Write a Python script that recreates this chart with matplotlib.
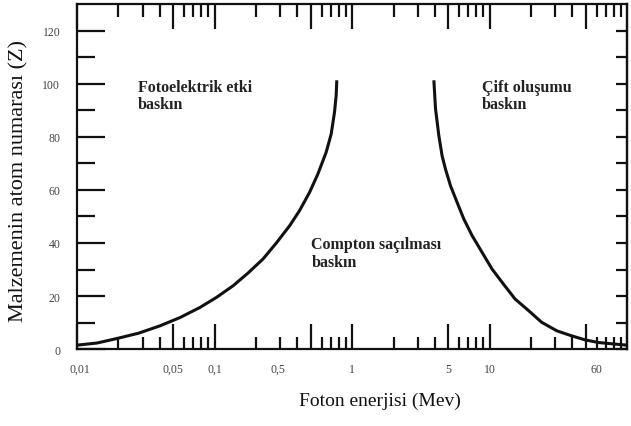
import numpy as np
import matplotlib.pyplot as plt
from matplotlib.ticker import FixedLocator, NullFormatter

# curve: photo effect / Compton border (left)
photo_energy = [0.01, 0.01396, 0.0195, 0.028, 0.0402, 0.0561, 0.0783, 0.1033,
                0.1366, 0.1754, 0.2254, 0.2813, 0.3515, 0.415, 0.491, 0.564,
                0.648, 0.705, 0.745, 0.766, 0.774]
photo_z = [1.5, 2.3, 4.0, 6.0, 8.8, 11.9, 15.7, 19.5, 23.9, 28.7, 34, 40,
           46.5, 52.2, 59.1, 66, 74.2, 81.1, 89.3, 95.6, 101.3]

# Compton / pair production border (right)
pair_energy = [3.93, 4.04, 4.27, 4.51, 4.77, 5.19, 5.80, 6.48, 7.45, 8.80,
               10.4, 12.6, 15.3, 19.2, 23.9, 30.8, 39.5, 49.3, 61.7, 81.4, 100]
pair_z = [101.3, 90.6, 80.5, 72.9, 67.9, 61.6, 55.3, 49.1, 42.8, 36.5,
          30.2, 24.5, 18.9, 14.5, 10.1, 6.9, 5.0, 3.5, 2.5, 1.9, 1.5]

# x tick labels, where they sit in the picture
xlabel_pos = [0.0105, 0.05, 0.1, 0.29, 1, 5, 10, 60]
xlabel_txt = ['0,01', '0,05', '0,1', '0,5', '1', '5', '10', '60']

y_major = [0, 20, 40, 60, 80, 100, 120]
y_minor = [10, 30, 50, 70, 90, 110]

region_labels = ['Fotoelektrik etki\nbaskın', 'Compton saçılması\nbaskın', 'Çift oluşumu\nbaskın']
region_pos = [(0.0277, 95.7), (0.505, 36.2), (8.75, 95.7)]

serif = 'Liberation Serif'
ink = '#111111'
lw = 1.6

#######################################################
fig = plt.figure(figsize=(6.31, 4.27), dpi=100)
ax = fig.add_axes([0.122, 0.180, 0.872, 0.808])

ax.plot(photo_energy, photo_z, color=ink, lw=2.2, solid_capstyle='butt')
ax.plot(pair_energy, pair_z, color=ink, lw=2.2, solid_capstyle='butt')

ax.set_xscale('log')
ax.set_xlim(0.01, 100)
ax.set_ylim(0, 130)

for s in ax.spines.values():
    s.set_linewidth(lw)
    s.set_color(ink)

# x tick marks: long at 1x and 5x of each decade, short at the rest
decades = [0.01, 0.1, 1, 10]
long_ticks = [d * m for d in decades for m in (1, 5)]
short_ticks = [d * m for d in decades for m in (2, 3, 4, 6, 7, 8, 9)]
ax.xaxis.set_major_locator(FixedLocator(long_ticks))
ax.xaxis.set_minor_locator(FixedLocator(short_ticks))
ax.xaxis.set_major_formatter(NullFormatter())
ax.xaxis.set_minor_formatter(NullFormatter())
ax.tick_params(axis='x', which='major', direction='in', length=18, width=lw,
               top=True, bottom=True, color=ink)
ax.tick_params(axis='x', which='minor', direction='in', length=9, width=lw,
               top=True, bottom=True, color=ink)

# y ticks on the left
ax.yaxis.set_major_locator(FixedLocator(y_major))
ax.yaxis.set_minor_locator(FixedLocator(y_minor))
ax.tick_params(axis='y', which='major', direction='in', length=20, width=lw,
               left=True, right=False, color=ink, pad=12, labelsize=8.5,
               labelcolor='#444444')
ax.tick_params(axis='y', which='minor', direction='in', length=13, width=lw,
               left=True, right=False, color=ink)
for t in ax.get_yticklabels():
    t.set_fontfamily(serif)

# short ticks on the right
ax_r = ax.secondary_yaxis('right')
ax_r.set_yticks(y_major + y_minor)
ax_r.tick_params(direction='in', length=8, width=lw, color=ink, labelright=False)
ax_r.spines['right'].set_linewidth(lw)

# x labels on their own axis, no marks
ax_b = ax.secondary_xaxis('bottom')
ax_b.set_xticks(xlabel_pos, xlabel_txt)
ax_b.xaxis.set_minor_locator(FixedLocator([]))
ax_b.tick_params(length=0, pad=10, labelsize=8.5, labelcolor='#444444')
ax_b.spines['bottom'].set_visible(False)
for t in ax_b.get_xticklabels():
    t.set_fontfamily(serif)
ax_b.set_xlabel('Foton enerjisi (Mev)', fontfamily=serif, fontsize=14,
               color=ink, labelpad=12, x=0.551)

ax.set_ylabel('Malzemenin atom numarası (Z)', fontfamily=serif, fontsize=16,
              color=ink)
ax.yaxis.set_label_coords(-0.088, 0.49)

for txt, (px, py) in zip(region_labels, region_pos):
    ax.text(px, py, txt, fontfamily=serif, fontweight='bold', fontsize=11.5,
            color='#222222', ha='left', va='center', linespacing=1.1)

fig.savefig('out.png', dpi=100)
